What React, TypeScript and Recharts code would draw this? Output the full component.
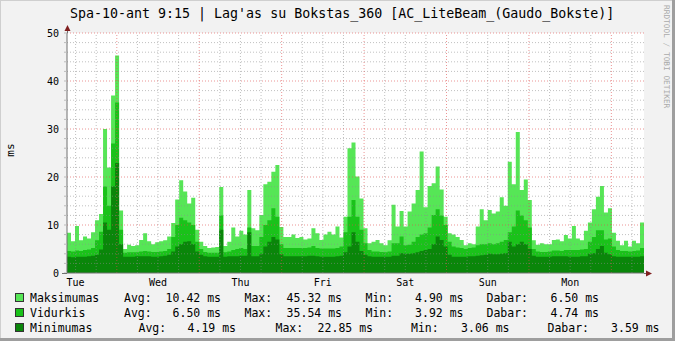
import React from 'react';
import { AreaChart, Area, XAxis, YAxis, CartesianGrid, ReferenceLine } from 'recharts';

// one value per ~70 min bin, Tue 09:30 .. Tue 09:15
const maksimumas = [
  8.4, 6.6, 9.8, 6.8, 7.6, 7.2, 8.5, 11.0, 12.3, 30.0, 22.0, 37.0, 45.3, 13.0,
  5.0, 5.9, 5.6, 5.8, 6.9, 8.3, 6.6, 6.0, 6.4, 6.6, 6.8, 7.6, 10.4, 15.3, 19.3, 17.0,
  14.5, 15.7, 9.0, 6.5, 5.6, 5.2, 5.3, 5.4, 17.9, 5.6, 6.5, 9.5, 7.6, 8.8, 8.0, 17.3,
  9.3, 8.9, 12.1, 18.5, 19.0, 21.1, 22.5, 9.6, 7.5, 7.5, 8.0, 7.3, 7.5, 7.0, 7.2, 9.3,
  8.3, 6.9, 8.0, 8.6, 8.0, 9.7, 7.4, 11.7, 26.0, 27.2, 20.1, 15.5, 9.3, 6.2, 6.5, 6.9,
  6.2, 5.8, 6.8, 14.2, 9.7, 12.9, 9.7, 12.8, 14.5, 17.3, 25.3, 13.7, 18.1, 18.7, 22.2, 17.4,
  11.7, 8.3, 8.0, 7.5, 6.9, 5.8, 6.2, 6.0, 9.7, 13.3, 11.0, 13.1, 12.4, 12.8, 15.8, 14.0,
  23.2, 18.5, 29.4, 17.3, 19.5, 15.2, 6.8, 5.9, 6.2, 6.0, 6.0, 6.9, 7.0, 6.6, 7.9, 7.2,
  9.8, 7.2, 6.8, 8.8, 10.5, 13.3, 15.9, 18.1, 12.6, 13.5, 8.4, 6.7, 5.8, 6.7, 5.5, 6.7,
  6.2, 10.5,
];
const vidurkis = [
  4.6, 4.5, 4.7, 4.6, 4.8, 4.9, 5.2, 6.8, 8.6, 18.0, 14.0, 27.0, 35.5, 9.0,
  4.2, 4.3, 4.3, 4.3, 4.5, 4.6, 4.5, 4.4, 4.4, 4.5, 4.6, 5.0, 7.5, 10.0, 11.5, 11.0,
  10.5, 10.0, 6.5, 5.0, 4.4, 4.2, 4.2, 4.2, 12.0, 4.3, 4.5, 4.8, 5.0, 5.2, 5.0, 9.5,
  5.6, 5.6, 7.5, 10.0, 11.0, 13.5, 11.7, 6.0, 5.2, 5.2, 5.2, 5.2, 5.2, 5.2, 5.3, 5.6,
  5.2, 5.1, 5.1, 5.1, 5.1, 5.2, 5.5, 8.5, 11.7, 15.2, 11.7, 9.0, 6.2, 4.8, 4.5, 4.5,
  4.4, 4.3, 4.5, 6.2, 6.2, 7.6, 5.8, 5.9, 6.5, 7.5, 8.0, 8.3, 9.5, 12.1, 13.3, 12.0,
  10.0, 6.5, 5.5, 5.3, 5.2, 5.0, 5.2, 5.3, 5.8, 6.0, 6.0, 6.2, 6.0, 6.2, 6.5, 6.9,
  8.5, 9.7, 13.0, 12.0, 11.0, 9.5, 5.0, 4.5, 4.4, 4.4, 4.5, 4.7, 4.7, 4.6, 4.8, 4.8,
  4.8, 4.8, 4.9, 5.0, 6.5, 7.5, 8.9, 8.9, 7.0, 7.2, 5.5, 4.8, 4.6, 4.6, 4.5, 4.6,
  4.7, 5.2,
];
const minimumas = [
  3.4, 3.3, 3.4, 3.4, 3.4, 3.5, 3.6, 3.8, 4.9, 10.5, 9.0, 18.0, 22.9, 6.0,
  3.4, 3.4, 3.4, 3.5, 3.5, 3.5, 3.5, 3.4, 3.4, 3.5, 3.6, 3.8, 4.5, 5.5, 6.0, 6.5,
  6.6, 6.0, 4.5, 3.8, 3.5, 3.4, 3.4, 3.4, 9.0, 3.4, 3.5, 3.5, 3.5, 3.6, 3.6, 8.5,
  3.5, 3.5, 4.0, 5.5, 6.5, 7.5, 7.0, 3.9, 3.5, 3.5, 3.5, 3.5, 3.5, 3.5, 3.6, 3.6,
  3.5, 3.4, 3.4, 3.4, 3.4, 3.5, 3.6, 4.3, 5.5, 8.5, 6.5, 4.6, 3.8, 3.5, 3.4, 3.4,
  3.4, 3.4, 3.4, 3.6, 3.6, 4.1, 4.0, 4.0, 4.1, 4.3, 4.6, 4.8, 5.0, 6.0, 7.6, 6.9,
  5.5, 3.8, 3.4, 3.4, 3.4, 3.4, 3.5, 3.5, 3.6, 3.7, 3.8, 4.0, 3.9, 3.9, 4.0, 4.1,
  6.5, 5.5, 6.0, 6.5, 6.0, 5.0, 3.6, 3.4, 3.4, 3.4, 3.4, 3.5, 3.5, 3.5, 3.5, 3.4,
  3.4, 3.4, 3.5, 3.5, 4.0, 4.1, 5.0, 5.6, 4.2, 3.9, 3.5, 3.4, 3.4, 3.4, 3.4, 3.4,
  3.4, 3.5,
];

const dayLabels = ['Tue', 'Wed', 'Thu', 'Fri', 'Sat', 'Sun', 'Mon'];

const legendRows = [
  { name: 'Maksimumas', color: '#56E656', avg: '10.42 ms', max: '45.32 ms', min: '4.90 ms', cur: '6.50 ms' },
  { name: 'Vidurkis', color: '#1AC21A', avg: '6.50 ms', max: '35.54 ms', min: '3.92 ms', cur: '4.74 ms' },
  { name: 'Minimumas', color: '#0A860A', avg: '4.19 ms', max: '22.85 ms', min: '3.06 ms', cur: '3.59 ms' },
];

const HOURS = 168;
const binHours = HOURS / maksimumas.length;

const data = maksimumas.map((v, i) => ({ t: i * binHours, max: v, avg: vidurkis[i], min: minimumas[i] }));
data.push({ t: HOURS, max: maksimumas[maksimumas.length - 1], avg: vidurkis[vidurkis.length - 1], min: minimumas[minimumas.length - 1] });

// first noon is 2.5h after the start of the graph
const noonTicks = dayLabels.map((_, k) => 2.5 + 24 * k);
const sixHours = Array.from({ length: 28 }, (_, k) => 2.5 + 6 * k).filter(h => h > 0 && h < HOURS);
const midnights = sixHours.filter(h => (h - 14.5) % 24 === 0);
const minorV = sixHours.filter(h => !midnights.includes(h));
const yTicks = Array.from({ length: 26 }, (_, k) => k * 2);
const majorH = [10, 20, 30, 40, 50];
const minorH = yTicks.filter(v => v > 0 && v % 10 !== 0);

const mono = '"DejaVu Sans Mono", monospace';
const MINOR = 'rgba(140,140,140,0.55)';
const MAJOR = 'rgba(222,79,79,0.6)';

function Legend() {
  const rowY = [298, 313, 328];
  // column positions differ for the last row (tab stops in rrdtool)
  const cols = [
    { avgL: 124, avgR: 221, maxL: 244.5, maxR: 342, minL: 365.5, minR: 463.5, curL: 486.5, curR: 599 },
    { avgL: 124, avgR: 221, maxL: 244.5, maxR: 342, minL: 365.5, minR: 463.5, curL: 486.5, curR: 599 },
    { avgL: 138.5, avgR: 236, maxL: 275.5, maxR: 373, minL: 411, minR: 509.5, curL: 547.5, curR: 659.5 },
  ];
  return (
    <g fontFamily={mono} fontSize={11.5} fill="#000">
      {legendRows.map((r, i) => {
        const y = rowY[i] + 4.2;
        const c = cols[i];
        return (
          <g key={r.name}>
            <rect x={15.5} y={rowY[i] - 4.5} width={8} height={8} fill={r.color} stroke="#333" strokeWidth={1} />
            <text x={30} y={y}>{r.name}</text>
            <text x={c.avgL} y={y}>Avg:</text>
            <text x={c.avgR} y={y} textAnchor="end">{r.avg}</text>
            <text x={c.maxL} y={y}>Max:</text>
            <text x={c.maxR} y={y} textAnchor="end">{r.max}</text>
            <text x={c.minL} y={y}>Min:</text>
            <text x={c.minR} y={y} textAnchor="end">{r.min}</text>
            <text x={c.curL} y={y}>Dabar:</text>
            <text x={c.curR} y={y} textAnchor="end">{r.cur}</text>
          </g>
        );
      })}
    </g>
  );
}

export default function App() {
  return (
    <div style={{ position: 'absolute', left: 0, top: 0, width: 675, height: 341, background: '#F2F2F2' }}>
      <AreaChart width={675} height={341} data={data} margin={{ top: 33, right: 31, left: 27, bottom: 48 }}>
        <CartesianGrid fill="#FFFFFF" fillOpacity={1} horizontal={false} vertical={false} stroke="none" />
        <XAxis
          type="number"
          dataKey="t"
          domain={[0, HOURS]}
          ticks={noonTicks}
          tickFormatter={(v: number) => dayLabels[Math.round((v - 2.5) / 24)]}
          height={20}
          tickLine={false}
          tickSize={3}
          tickMargin={3}
          axisLine={{ stroke: '#707070' }}
          tick={{ fill: '#000', fontSize: 10, fontFamily: mono }}
          allowDataOverflow
        />
        <YAxis
          type="number"
          domain={[0, 50]}
          ticks={yTicks}
          interval={0}
          tickFormatter={(v: number) => (v % 10 === 0 ? String(v) : '')}
          width={40}
          tickSize={3}
          tickMargin={5}
          tickLine={{ stroke: '#BBBBBB' }}
          axisLine={{ stroke: '#707070' }}
          tick={{ fill: '#000', fontSize: 10, fontFamily: mono }}
          allowDataOverflow
        />
        <Area type="stepAfter" dataKey="max" stroke="none" fill="#56E656" fillOpacity={1} isAnimationActive={false} dot={false} activeDot={false} />
        <Area type="stepAfter" dataKey="avg" stroke="none" fill="#1AC21A" fillOpacity={1} isAnimationActive={false} dot={false} activeDot={false} />
        <Area type="stepAfter" dataKey="min" stroke="none" fill="#0A860A" fillOpacity={1} isAnimationActive={false} dot={false} activeDot={false} />
        {minorH.map(v => (
          <ReferenceLine key={'mh' + v} y={v} stroke={MINOR} strokeDasharray="1 2" />
        ))}
        {minorV.map(v => (
          <ReferenceLine key={'mv' + v} x={v} stroke={MINOR} strokeDasharray="1 2" />
        ))}
        {majorH.map(v => (
          <ReferenceLine key={'Mh' + v} y={v} stroke={MAJOR} strokeDasharray="1 2" />
        ))}
        {midnights.map(v => (
          <ReferenceLine key={'Mv' + v} x={v} stroke={MAJOR} strokeDasharray="1 2" />
        ))}
      </AreaChart>
      <svg width={675} height={341} style={{ position: 'absolute', left: 0, top: 0, pointerEvents: 'none' }}>
        <text x={70} y={18} fontFamily={mono} fontSize={13.3} fill="#000">
          Spa-10-ant 9:15 | Lag'as su Bokstas_360 [AC_LiteBeam_(Gaudo_Bokste)]
        </text>
        <text x={14} y={150} fontFamily={mono} fontSize={11} fill="#000" textAnchor="middle" transform="rotate(-90 14 150)">
          ms
        </text>
        <text x={664} y={5} fontFamily={mono} fontSize={7.8} fill="#AAAAAA" transform="rotate(90 664 5)">
          RRDTOOL / TOBI OETIKER
        </text>
        {/* axis arrows */}
        <line x1={67.5} y1={33} x2={67.5} y2={28} stroke="#707070" />
        <polygon points="64.5,31 70.5,31 67.5,25" fill="#801F1F" />
        <line x1={62} y1={273.5} x2={67} y2={273.5} stroke="#707070" />
        <line x1={644} y1={273.5} x2={648} y2={273.5} stroke="#707070" />
        <polygon points="646,270.5 646,276.5 652,273.5" fill="#801F1F" />
        <Legend />
        {/* frame */}
        <line x1={0} y1={0.5} x2={675} y2={0.5} stroke="#CFCFCF" />
        <line x1={0.5} y1={0} x2={0.5} y2={341} stroke="#CFCFCF" />
        <line x1={0} y1={339.5} x2={675} y2={339.5} stroke="#9E9E9E" strokeWidth={3} />
        <line x1={673.5} y1={0} x2={673.5} y2={341} stroke="#9E9E9E" strokeWidth={3} />
      </svg>
    </div>
  );
}
